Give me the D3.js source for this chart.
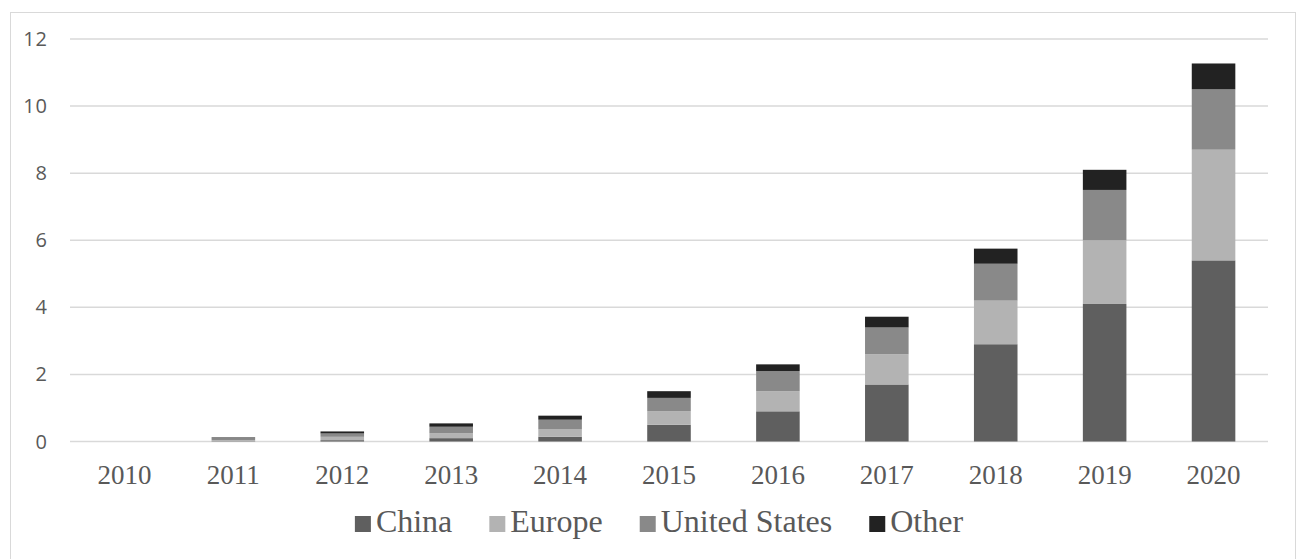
<!DOCTYPE html>
<html>
<head>
<meta charset="utf-8">
<script src="https://cdn.jsdelivr.net/npm/d3@7"></script>
<style>
  html, body { margin: 0; padding: 0; background: #fff; }
  svg { display: block; }
</style>
</head>
<body>
<svg id="chart" width="1301" height="559"></svg>
<script>
const years = ["2010","2011","2012","2013","2014","2015","2016","2017","2018","2019","2020"];
const seriesNames = ["China", "Europe", "United States", "Other"];
const china  = [0, 0.01, 0.04, 0.10, 0.14, 0.50, 0.90, 1.70, 2.90, 4.10, 5.40];
const europe = [0, 0.03, 0.10, 0.15, 0.22, 0.40, 0.60, 0.90, 1.30, 1.90, 3.30];
const us     = [0, 0.06, 0.10, 0.19, 0.29, 0.40, 0.60, 0.80, 1.10, 1.50, 1.80];
const other  = [0, 0.02, 0.06, 0.10, 0.12, 0.20, 0.20, 0.32, 0.45, 0.60, 0.77];
const yTicks = [0, 2, 4, 6, 8, 10, 12];
const colors = ["#5f5f5f", "#b3b3b3", "#898989", "#222222"];

const svg = d3.select("#chart");

// outer frame
svg.append("rect")
  .attr("x", 10.5).attr("y", 12.5).attr("width", 1285).attr("height", 560)
  .attr("fill", "none").attr("stroke", "#d9d9d9").attr("stroke-width", 1);

const x = d3.scaleBand().domain(years).range([70, 1268]).paddingInner(0.6).paddingOuter(0.3);
const y = d3.scaleLinear().domain([0, 12]).range([441.5, 39]);

// gridlines
svg.append("g").selectAll("line").data(yTicks).join("line")
  .attr("x1", 70).attr("x2", 1268)
  .attr("y1", d => y(d)).attr("y2", d => y(d))
  .attr("stroke", "#d9d9d9").attr("stroke-width", 1.5);

// y tick labels
svg.append("g").selectAll("text").data(yTicks).join("text")
  .attr("x", 48).attr("y", d => y(d))
  .attr("dy", "0.35em")
  .attr("text-anchor", "end")
  .attr("font-family", "'Open Sans', sans-serif")
  .attr("font-size", 20)
  .attr("letter-spacing", 1)
  .attr("fill", "#595959")
  .text(d => d);

// stacked data
const rows = years.map((yr, i) => ({
  year: yr,
  "China": china[i], "Europe": europe[i], "United States": us[i], "Other": other[i]
}));
const stack = d3.stack().keys(seriesNames)(rows);

svg.append("g").selectAll("g").data(stack).join("g")
  .attr("fill", (d, i) => colors[i])
  .selectAll("rect").data(d => d).join("rect")
  .attr("x", d => x(d.data.year))
  .attr("width", x.bandwidth())
  .attr("y", d => y(d[1]))
  .attr("height", d => Math.max(0, y(d[0]) - y(d[1])));

// x labels
svg.append("g").selectAll("text").data(years).join("text")
  .attr("x", d => x(d) + x.bandwidth() / 2)
  .attr("y", 484)
  .attr("text-anchor", "middle")
  .attr("font-family", "'Liberation Serif', 'Times New Roman', serif")
  .attr("font-size", 27)
  .attr("fill", "#595959")
  .text(d => d);

// legend
const legend = svg.append("g");
const fontSize = 32;
const items = legend.selectAll("g").data(seriesNames).join("g");
items.append("rect")
  .attr("width", 16).attr("height", 16)
  .attr("fill", (d, i) => colors[i]);
items.append("text")
  .attr("x", 21).attr("y", 16)
  .attr("font-family", "'Liberation Serif', 'Times New Roman', serif")
  .attr("font-size", fontSize)
  .attr("fill", "#595959")
  .text(d => d);
const gap = 37;
const widths = [];
items.each(function() {
  widths.push(this.querySelector("text").getComputedTextLength() + 21);
});
const total = d3.sum(widths) + gap * (widths.length - 1);
let start = 659 - total / 2;
items.attr("transform", (d, i) => {
  const tx = start;
  start += widths[i] + gap;
  return `translate(${tx},516)`;
});
</script>
</body>
</html>
